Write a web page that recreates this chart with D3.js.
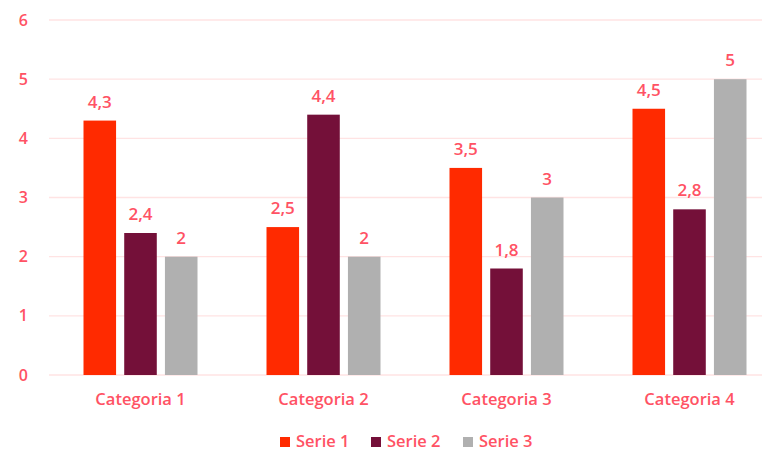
<!DOCTYPE html>
<html>
<head>
<meta charset="utf-8">
<script src="https://cdn.jsdelivr.net/npm/d3@7/dist/d3.min.js"></script>
<style>
  html, body { margin: 0; padding: 0; background: #fff; }
  svg { display: block; }
  text { font-family: "Open Sans", "DejaVu Sans", sans-serif; }
</style>
</head>
<body>
<svg id="chart" width="762" height="453"></svg>
<script>
// Data
const categories = ["Categoria 1", "Categoria 2", "Categoria 3", "Categoria 4"];
const seriesNames = ["Serie 1", "Serie 2", "Serie 3"];
const serie1 = [4.3, 2.5, 3.5, 4.5];
const serie2 = [2.4, 4.4, 1.8, 2.8];
const serie3 = [2, 2, 3, 5];
const yTicks = [0, 1, 2, 3, 4, 5, 6];

const seriesValues = [serie1, serie2, serie3];
const colors = ["#ff2a00", "#741039", "#b0b0b0"];
const textColor = "#ff5264";
const gridColor = "#ffe3e3";

const svg = d3.select("#chart");

const margin = { left: 49, right: -19, top: 20, bottom: 78 };
const width = 762 - margin.left - margin.right;
const height = 453 - margin.top - margin.bottom;

const g = svg.append("g").attr("transform", `translate(${margin.left},${margin.top})`);

const x0 = d3.scaleBand().domain(categories).range([0, width]).paddingInner(0).paddingOuter(0);
const x1 = d3.scaleBand().domain(seriesNames).range([34.5, x0.bandwidth() - 34.5]).paddingInner(0.2).paddingOuter(0);
const y = d3.scaleLinear().domain([0, 6]).range([height, 0]);

// Gridlines
g.append("g")
  .selectAll("line")
  .data(yTicks)
  .join("line")
  .attr("x1", 0)
  .attr("x2", width)
  .attr("y1", d => y(d))
  .attr("y2", d => y(d))
  .attr("stroke", gridColor)
  .attr("stroke-width", 1.3);

// Y axis labels
const yAxis = d3.axisLeft(y).tickValues(yTicks).tickSize(0).tickPadding(21).tickFormat(d3.format("d"));
const ya = g.append("g").call(yAxis);
ya.select(".domain").remove();
ya.selectAll("text")
  .attr("fill", textColor)
  .style("font-size", "16px")
  .style("font-weight", 600);

// X axis labels
const xAxis = d3.axisBottom(x0).tickSize(0).tickPadding(18);
const xa = g.append("g").attr("transform", `translate(0,${height})`).call(xAxis);
xa.select(".domain").remove();
xa.selectAll("text")
  .attr("fill", textColor)
  .style("font-size", "16.5px")
  .style("font-weight", 600);

// Bars
const rows = categories.map((c, i) => ({
  cat: c,
  vals: seriesNames.map((s, j) => ({ s, j, v: seriesValues[j][i] }))
}));

const groups = g.append("g")
  .selectAll("g")
  .data(rows)
  .join("g")
  .attr("transform", d => `translate(${x0(d.cat)},0)`);

groups.selectAll("rect")
  .data(d => d.vals)
  .join("rect")
  .attr("x", d => x1(d.s))
  .attr("width", x1.bandwidth())
  .attr("y", d => y(d.v))
  .attr("height", d => y(0) - y(d.v))
  .attr("fill", d => colors[d.j]);

// Value labels
const fmt = v => String(v).replace(".", ",");
groups.selectAll("text.val")
  .data(d => d.vals)
  .join("text")
  .attr("class", "val")
  .attr("x", d => x1(d.s) + x1.bandwidth() / 2)
  .attr("y", d => y(d.v) - 13)
  .attr("text-anchor", "middle")
  .attr("fill", textColor)
  .style("font-size", "17px")
  .style("font-weight", 600)
  .text(d => fmt(d.v));

// Legend
const legendX = [280, 371, 463];
const legend = svg.append("g")
  .selectAll("g")
  .data(seriesNames)
  .join("g")
  .attr("transform", (d, i) => `translate(${legendX[i]},437)`);
legend.append("rect")
  .attr("width", 10)
  .attr("height", 10)
  .attr("fill", (d, i) => colors[i]);
legend.append("text")
  .attr("x", 16)
  .attr("y", 10)
  .attr("fill", textColor)
  .style("font-size", "16.5px")
  .style("font-weight", 600)
  .text(d => d);
</script>
</body>
</html>
